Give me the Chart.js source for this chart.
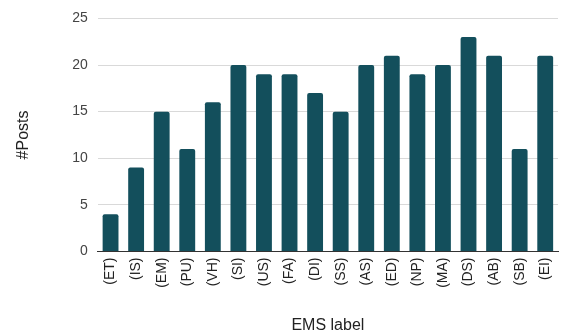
<!DOCTYPE html>
<html>
<head>
<meta charset="utf-8">
<script src="https://cdn.jsdelivr.net/npm/chart.js@4"></script>
<style>
  body { margin: 0; background: #fff; }
  #wrap { width: 561px; height: 333px; }
</style>
</head>
<body>
<div id="wrap"><canvas id="emsChart"></canvas></div>
<script>
const labels = ['(ET)', '(IS)', '(EM)', '(PU)', '(VH)', '(SI)', '(US)', '(FA)', '(DI)', '(SS)', '(AS)', '(ED)', '(NP)', '(MA)', '(DS)', '(AB)', '(SB)', '(EI)'];
const posts = [4, 9, 15, 11, 16, 20, 19, 19, 17, 15, 20, 21, 19, 20, 23, 21, 11, 21];
const yTicks = [0, 5, 10, 15, 20, 25];

const ctx = document.getElementById('emsChart').getContext('2d');
new Chart(ctx, {
    type: 'bar',
    data: {
        labels: labels,
        datasets: [{
            label: '#Posts',
            data: posts,
            backgroundColor: '#134f5c',
            borderRadius: { topLeft: 2, topRight: 2 },
            borderSkipped: 'bottom',
            barPercentage: 0.62,
            categoryPercentage: 1
        }]
    },
    options: {
        responsive: true,
        maintainAspectRatio: false,
        animation: false,
        layout: { padding: { top: 11, right: 3, left: 14, bottom: -2 } },
        plugins: {
            legend: { display: false },
            tooltip: { enabled: false }
        },
        scales: {
            x: {
                afterFit: axis => { axis.paddingLeft = 0; axis.paddingRight = 0; },
                grid: { display: false, drawTicks: false },
                border: { color: '#333', width: 1 },
                ticks: {
                    color: '#222',
                    font: { family: 'Liberation Sans, Arial', size: 14 },
                    minRotation: 90,
                    maxRotation: 90,
                    padding: 6
                },
                title: {
                    display: true,
                    text: 'EMS label',
                    color: '#222',
                    font: { family: 'Liberation Sans, Arial', size: 16 },
                    padding: { top: 22, bottom: 0 }
                }
            },
            y: {
                min: 0,
                max: 25,
                afterBuildTicks: axis => { axis.ticks = yTicks.map(v => ({ value: v })); },
                grid: { color: '#d9d9d9', drawTicks: false },
                border: { display: false },
                ticks: {
                    color: '#444',
                    font: { family: 'Liberation Sans, Arial', size: 14 },
                    padding: 10
                },
                title: {
                    display: true,
                    text: '#Posts',
                    color: '#222',
                    font: { family: 'Liberation Sans, Arial', size: 16 },
                    padding: { top: 0, bottom: 29 }
                }
            }
        }
    }
});
</script>
</body>
</html>
